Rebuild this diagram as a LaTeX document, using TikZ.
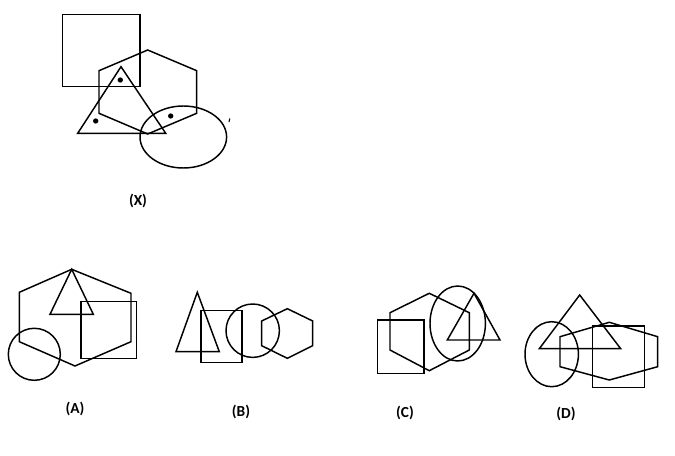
\documentclass[tikz,border=0pt]{standalone}
\usepackage{fontspec}
\setmainfont{Carlito}
\begin{document}
\begin{tikzpicture}[x=0.75pt,y=-0.75pt,line width=1.1pt,line join=miter,
  lbl/.style={font=\bfseries\fontsize{11.5}{13}\selectfont,inner sep=0pt},
  dot/.style={fill=black,circle,inner sep=0pt,minimum size=4pt}]
\useasboundingbox (0,0) rectangle (675,456);
% X
\draw (62.3,14.3) rectangle (140,86.7);
\draw (147.7,50)--(196.7,70.7)--(196.7,113.3)--(147.7,134)--(99,113.3)--(99,70.7)--cycle;
\draw (121,66.7)--(77.7,133.3)--(165.7,133.3)--cycle;
\draw (183.3,137) ellipse [x radius=43.3,y radius=31];
\node[dot] (d1) at (120.3,80) {};
\node[dot] (d2) at (95.7,121) {};
\node[dot] (d3) at (170.7,116) {};
\draw[line width=0.8pt] (229.8,118.5)--(229,122);
\node[lbl] (lx) at (138,201) {(X)};
% A
\draw (71.7,269.3)--(131,293.3)--(131,341.7)--(75,366)--(19.3,341.7)--(19.3,292.3)--cycle;
\draw (71.7,269.3)--(50,314.3)--(93.3,314.3)--cycle;
\draw (81,301.7) rectangle (136.7,358.3);
\draw (34.3,354.3) circle [radius=26];
\node[lbl] (la) at (75,409) {(A)};
% B
\draw (197.3,292.3)--(176,351.7)--(219.3,351.7)--cycle;
\draw (201,310.7) rectangle (242,362.7);
\draw (252.7,330.7) circle [radius=26.7];
\draw (261.7,321)--(287.3,308.7)--(312.7,321)--(312.7,345.7)--(287.3,358.3)--(261.7,345.7)--cycle;
\node[lbl] (lb) at (241,412) {(B)};
% C
\draw (377.7,320) rectangle (424,373.3);
\draw (429.3,293.3)--(469.3,312.7)--(469.3,350)--(429.3,370.7)--(390,350)--(390,312.7)--cycle;
\draw (457.7,323.5) ellipse [x radius=27.7,y radius=37.5];
\draw (474,293.3)--(447.3,340)--(500,340)--cycle;
\node[lbl] (lc) at (405,413) {(C)};
% D
\draw (579.7,295)--(539.3,348.7)--(620.7,348.7)--cycle;
\draw (551.7,354.2) ellipse [x radius=26.7,y radius=32.5];
\draw (609.3,322.3)--(657.7,336.7)--(657.7,366.7)--(609.3,380)--(560,366.7)--(560,336.7)--cycle;
\draw (592.7,326) rectangle (644.3,387.7);
\node[lbl] (ld) at (566,414) {(D)};
\end{tikzpicture}
\end{document}
